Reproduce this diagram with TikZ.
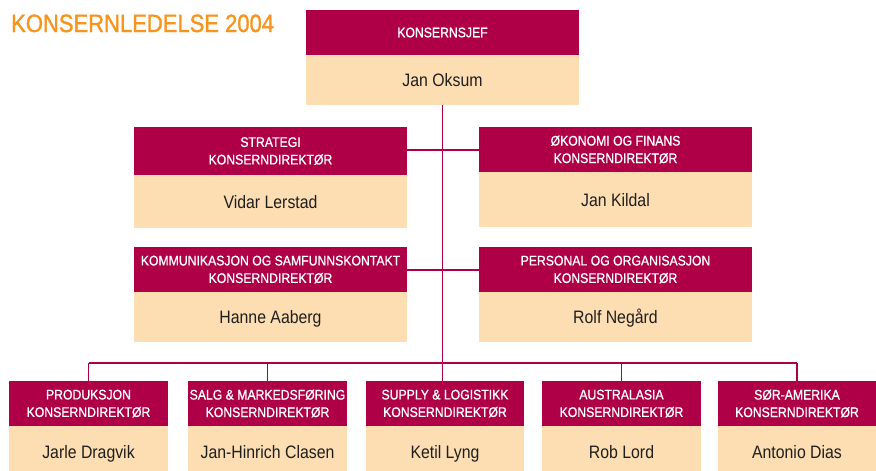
\documentclass[tikz,border=0pt]{standalone}
\usepackage{fontspec}
\setmainfont{Liberation Sans}[FakeStretch=0.88]
\newfontfamily\bandfont{Liberation Sans}[FakeStretch=0.88, FakeBold=1.0]
\newfontfamily\headfont{Liberation Sans}[FakeStretch=0.88, FakeBold=1.3]
\definecolor{crimson}{HTML}{AF0047}
\definecolor{peach}{HTML}{FDDEB2}
\definecolor{titleorange}{HTML}{F7941D}
\definecolor{ink}{HTML}{1E1E1E}

\tikzset{
  hdr/.style={fill=crimson, text=white, inner sep=0pt, align=center,
    font=\bandfont\fontsize{13.9}{17.5}\selectfont},
  who/.style={fill=peach, text=ink, inner sep=0pt, text height=13pt, text depth=0pt,
    font=\fontsize{18}{21}\selectfont},
  link/.style={draw=crimson, line width=1.2pt},
  headline/.style={text=titleorange, inner sep=0pt, anchor=base west,
    font=\headfont\fontsize{25}{28}\selectfont},
}

% \orgunit{name}{x left}{x right}{y top}{y split}{y bottom}{title}{person}
% draws a title band (name-h) over a person panel (name)
\newcommand\orgunit[8]{%
  \pgfmathsetmacro\uw{#3-#2}%
  \pgfmathsetmacro\uhh{#5-#4}%
  \pgfmathsetmacro\uph{#6-#5}%
  \pgfmathsetmacro\ux{(#2+#3)/2}%
  \pgfmathsetmacro\uyh{(#4+#5)/2}%
  \pgfmathsetmacro\uyp{(#5+#6)/2}%
  \node[hdr, minimum width=\uw pt, minimum height=\uhh pt] (#1-h) at (\ux,\uyh) {#7};
  \node[who, minimum width=\uw pt, minimum height=\uph pt] (#1) at (\ux,\uyp) {#8};
}

\begin{document}
\begin{tikzpicture}[x=1pt, y=-1pt]
\useasboundingbox (0,0) rectangle (876,471);

\node[headline] (title) at (11,32) {KONSERNLEDELSE 2004};

% top level
\orgunit{ceo}{306}{579}{10}{55}{105}{KONSERNSJEF}{Jan Oksum}

% staff directors
\orgunit{strat}{134}{407}{127}{175}{228}{STRATEGI\\KONSERNDIREKTØR}{Vidar Lerstad}
\orgunit{fin}{479}{752}{127}{172}{227}{ØKONOMI OG FINANS\\KONSERNDIREKTØR}{Jan Kildal}
\orgunit{komm}{134}{407}{247}{292}{342}{KOMMUNIKASJON OG SAMFUNNSKONTAKT\\KONSERNDIREKTØR}{Hanne Aaberg}
\orgunit{pers}{479}{752}{247}{292}{342}{PERSONAL OG ORGANISASJON\\KONSERNDIREKTØR}{Rolf Negård}

% line directors
\orgunit{prod}{9}{168}{381}{426}{478}{PRODUKSJON\\KONSERNDIREKTØR}{Jarle Dragvik}
\orgunit{salg}{188}{347}{381}{426}{478}{SALG \& MARKEDSFØRING\\KONSERNDIREKTØR}{Jan-Hinrich Clasen}
\orgunit{supp}{366}{524}{381}{426}{478}{SUPPLY \& LOGISTIKK\\KONSERNDIREKTØR}{Ketil Lyng}
\orgunit{aus}{542}{701}{381}{426}{478}{AUSTRALASIA\\KONSERNDIREKTØR}{Rob Lord}
\orgunit{sam}{718}{876}{381}{426}{478}{SØR-AMERIKA\\KONSERNDIREKTØR}{Antonio Dias}

% connectors
\coordinate (bus) at (ceo.south |- 0,363);
\draw[link] (ceo.south) -- (ceo.south |- supp-h.north);
\draw[link] (strat-h.east |- 0,150) -- (fin-h.west |- 0,150);
\draw[link] (komm-h.east |- 0,270) -- (pers-h.west |- 0,270);
\draw[link] (prod-h.north |- bus) -- (sam-h.north |- bus);
\foreach \u in {prod,salg,aus,sam}
  \draw[link] (\u-h.north |- bus) -- (\u-h.north);
\end{tikzpicture}
\end{document}
